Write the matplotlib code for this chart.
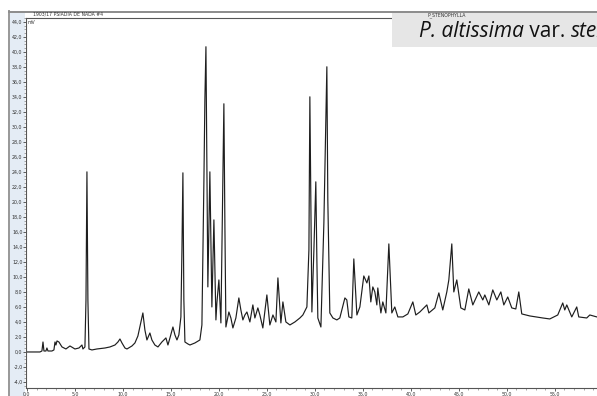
import matplotlib.pyplot as plt
from matplotlib.patches import Rectangle
from matplotlib.ticker import MultipleLocator, FuncFormatter

# retention time (min) and signal (mV)
time = [0.0, 1.35, 1.56, 1.67, 1.77, 1.98, 2.08, 2.19, 2.6, 2.81, 2.92, 3.02, 3.13, 3.33, 3.65,
        4.06, 4.48, 5.0, 5.42, 5.63, 5.73, 5.83, 6.04, 6.15, 6.25, 6.35, 6.46, 6.77, 7.29, 8.13,
        8.65, 9.17, 9.48, 9.69, 9.9, 10.21, 10.42, 10.94, 11.25, 11.56, 11.88, 12.08, 12.29, 12.5,
        12.81, 13.02, 13.33, 13.65, 14.06, 14.48, 14.69, 14.9, 15.21, 15.42, 15.63, 15.83, 16.04,
        16.15, 16.25, 16.35, 16.46, 16.77, 16.98, 17.5, 18.02, 18.23, 18.44, 18.54, 18.65, 18.75,
        18.85, 19.06, 19.27, 19.48, 19.69, 19.79, 20.0, 20.21, 20.31, 20.52, 20.63, 20.73, 21.04,
        21.25, 21.46, 21.77, 22.08, 22.29, 22.5, 22.71, 22.92, 23.23, 23.54, 23.75, 24.06, 24.27,
        24.58, 25.0, 25.31, 25.63, 25.94, 26.15, 26.46, 26.67, 26.98, 27.4, 27.92, 28.44, 28.75,
        29.17, 29.38, 29.48, 29.58, 29.69, 29.9, 30.1, 30.21, 30.31, 30.63, 30.94, 31.15, 31.25,
        31.35, 31.56, 31.88, 32.29, 32.6, 33.13, 33.33, 33.54, 33.85, 34.06, 34.38, 34.69, 35.1,
        35.42, 35.63, 35.83, 36.04, 36.25, 36.46, 36.56, 36.88, 37.08, 37.4, 37.71, 38.02, 38.33,
        38.65, 39.17, 39.69, 40.21, 40.52, 40.94, 41.67, 41.88, 42.5, 42.92, 43.33, 43.75, 43.96,
        44.27, 44.48, 44.79, 45.21, 45.63, 46.04, 46.46, 47.08, 47.5, 47.71, 48.13, 48.54, 48.96,
        49.38, 49.69, 50.1, 50.52, 50.94, 51.25, 51.56, 52.4, 53.75, 54.48, 55.31, 55.83, 56.04,
        56.25, 56.77, 57.29, 57.5, 58.33, 58.65, 59.38, 59.7]
signal = [0.0, 0.0, 0.13, 1.33, 0.13, 0.13, 0.53, 0.13, 0.13, 0.27, 1.33, 0.93, 1.47, 1.33, 0.67,
          0.4, 0.8, 0.4, 0.53, 0.8, 0.93, 0.4, 0.67, 6.93, 24.0, 6.93, 0.4, 0.27, 0.4, 0.53,
          0.67, 0.93, 1.33, 1.73, 1.2, 0.53, 0.4, 0.8, 1.2, 2.13, 4.0, 5.2, 2.93, 1.6,
          2.53, 1.6, 0.93, 0.67, 1.33, 1.87, 0.93, 1.87, 3.33, 2.27, 1.6, 2.27, 4.67,
          13.6, 23.87, 6.93, 1.33, 1.07, 0.93, 1.2, 1.6, 3.6, 22.93, 33.6, 40.67, 24.27,
          8.67, 24.0, 6.0, 17.6, 4.27, 6.53, 9.6, 3.87, 13.6, 33.07, 16.27, 3.33, 5.33,
          4.53, 3.2, 4.53, 7.2, 5.6, 4.27, 4.93, 5.33, 4.0, 6.27, 4.53, 5.87, 4.93,
          3.2, 7.6, 3.6, 4.93, 4.0, 9.87, 3.87, 6.67, 4.0, 3.6, 4.0, 4.53, 4.93,
          6.0, 13.6, 34.0, 20.27, 5.33, 13.6, 22.67, 12.27, 4.53, 3.33, 17.2, 30.93, 38.0,
          20.27, 5.2, 4.53, 4.27, 4.53, 7.2, 6.93, 4.67, 4.53, 12.4, 4.93, 6.0, 10.13,
          9.2, 10.13, 6.67, 8.67, 8.0, 6.27, 8.53, 5.2, 6.67, 5.2, 14.4, 5.2, 6.0,
          4.67, 4.67, 5.07, 6.67, 4.93, 5.33, 6.27, 5.2, 5.87, 7.87, 5.6, 8.0, 9.6,
          14.4, 8.0, 9.6, 5.87, 5.6, 8.4, 6.27, 8.0, 6.93, 7.6, 6.27, 8.27, 6.93,
          8.0, 6.27, 7.33, 5.87, 5.73, 8.0, 5.07, 4.8, 4.53, 4.4, 4.93, 6.53, 5.6,
          6.27, 4.67, 6.0, 4.67, 4.53, 4.93, 4.67, 4.8]

x_ticks = [0, 5, 10, 15, 20, 25, 30, 35, 40, 45, 50, 55]
y_ticks = list(range(-4, 46, 2))

W, H = 597, 396
fig = plt.figure(figsize=(W / 100, H / 100), dpi=100)

# window chrome: left label panel, top border
fig.patches.append(Rectangle((8 / W, 0), 17 / W, 1 - 13 / H, transform=fig.transFigure,
                             facecolor='#e4ecf5', edgecolor='none', zorder=-3))
fig.patches.append(Rectangle((8 / W, 0), 1.5 / W, 1 - 10 / H, transform=fig.transFigure,
                             facecolor='#9a9a9a', edgecolor='none', zorder=-2))
fig.patches.append(Rectangle((8 / W, 1 - 13 / H), 1 - 8 / W, 2.5 / H, transform=fig.transFigure,
                             facecolor='#8e8e8e', edgecolor='none', zorder=-2))

ax = fig.add_axes([26 / W, 8 / H, (W - 26) / W, (388 - 18) / H])
ax.patch.set_alpha(0)
ax.plot(time, signal, color='#1e1e1e', lw=0.85)
ax.set_xlim(-0.1, 59.4)
ax.set_ylim(-4.8, 44.5)

ax.spines['right'].set_visible(False)
for s in ['left', 'bottom', 'top']:
    ax.spines[s].set_color('#555555')
    ax.spines[s].set_linewidth(0.8)

fmt = FuncFormatter(lambda v, p: ('%.1f' % v).replace('.', ','))
ax.set_xticks(x_ticks)
ax.set_yticks(y_ticks)
ax.xaxis.set_major_formatter(fmt)
ax.yaxis.set_major_formatter(fmt)
ax.xaxis.set_minor_locator(MultipleLocator(1))
ax.yaxis.set_minor_locator(MultipleLocator(0.5))
ax.tick_params(axis='both', which='major', labelsize=3.4, length=2, width=0.6,
               color='#444444', labelcolor='#333333', pad=0.5)
ax.tick_params(axis='both', which='minor', length=1.2, width=0.4, color='#666666')

# header texts
fig.text(33 / W, 1 - 16 / H, '1903/17 PSIADIA DE NADA #4', fontsize=3.3, color='#333333',
         va='baseline')
fig.text(427 / W, 1 - 16 / H, 'P_STENOPHYLLA', fontsize=3.3, color='#333333', va='baseline')
fig.text(28 / W, 1 - 24 / H, 'mV', fontsize=3.3, color='#333333', va='baseline')

# species label box (cut at the right edge, as in the screenshot)
fig.patches.append(Rectangle((392 / W, 1 - 47 / H), 1 - 392 / W, 34 / H,
                             transform=fig.transFigure, facecolor='#e6e6e6',
                             edgecolor='none', zorder=3))
renderer = fig.canvas.get_renderer()
x = 419 / W
for part, style in [('P. altissima', 'italic'), (' var. ', 'normal'), ('stenophylla', 'italic')]:
    t = fig.text(x, 1 - 37 / H, part, fontsize=15, family='Open Sans', style=style,
                 va='baseline', color='#111111', zorder=4)
    bb = t.get_window_extent(renderer)
    x = bb.x1 / W

fig.savefig('out.png', dpi=100)
